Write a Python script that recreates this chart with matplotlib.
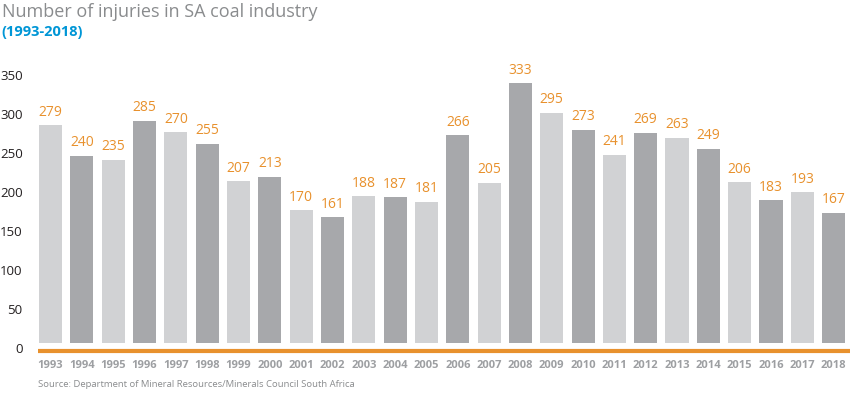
import matplotlib
matplotlib.use("Agg")
import matplotlib.pyplot as plt
import matplotlib.transforms as mtransforms

# data
years = ["1993", "1994", "1995", "1996", "1997", "1998", "1999", "2000", "2001",
         "2002", "2003", "2004", "2005", "2006", "2007", "2008", "2009", "2010",
         "2011", "2012", "2013", "2014", "2015", "2016", "2017", "2018"]
injuries = [279, 240, 235, 285, 270, 255, 207, 213, 170, 161, 188, 187, 181,
            266, 205, 333, 295, 273, 241, 269, 263, 249, 206, 183, 193, 167]
yticks = [0, 50, 100, 150, 200, 250, 300, 350]

light = "#d1d2d4"
dark = "#a7a8ab"
orange = "#e8912d"
plt.rcParams['font.family'] = ['Open Sans', 'DejaVu Sans']

fig = plt.figure(figsize=(8.5, 3.96), dpi=100, facecolor="white")
ax = fig.add_axes([38/850, 42/396, 1 - 38/850, 292/396])

x = list(range(len(years)))
colors = [light if i % 2 == 0 else dark for i in x]
ax.bar(x, injuries, width=0.74, color=colors, zorder=2)

for xi, v in zip(x, injuries):
    ax.annotate(str(v), (xi, v), xytext=(0, 4), textcoords="offset points",
                ha="center", va="bottom", color=orange, fontsize=10)

ax.axhline(-10, color=orange, lw=3, zorder=3)
ax.set_xlim(-0.4, 25.52)
ax.set_ylim(-14, 360)

ax.set_yticks(yticks)
ax.set_yticklabels([str(t) for t in yticks], fontsize=9.5, color="#231f20")
ax.set_xticks(x)
ax.set_xticklabels(years, fontsize=8, color="#9d9fa2", fontweight="bold")
ax.tick_params(axis="both", length=0)
ax.tick_params(axis="y", pad=11)
ax.tick_params(axis="x", pad=4)

off = mtransforms.ScaledTranslation(0, -5/100, fig.dpi_scale_trans)
for lab in ax.get_yticklabels():
    lab.set_transform(lab.get_transform() + off)

for s in ax.spines.values():
    s.set_visible(False)

fig.text(0.002, 0.993, "Number of injuries in SA coal industry", fontsize=13,
         color="#8a8c8e", ha="left", va="top")
fig.text(0.002, 0.938, "(1993-2018)", fontsize=10.5, color="#0096d6",
         fontweight="bold", ha="left", va="top")
fig.text(38/850, 0.03, "Source: Department of Mineral Resources/Minerals Council South Africa",
         fontsize=6.8, color="#8a8c8e", ha="left", va="center")

fig.savefig("out.png", dpi=100)
